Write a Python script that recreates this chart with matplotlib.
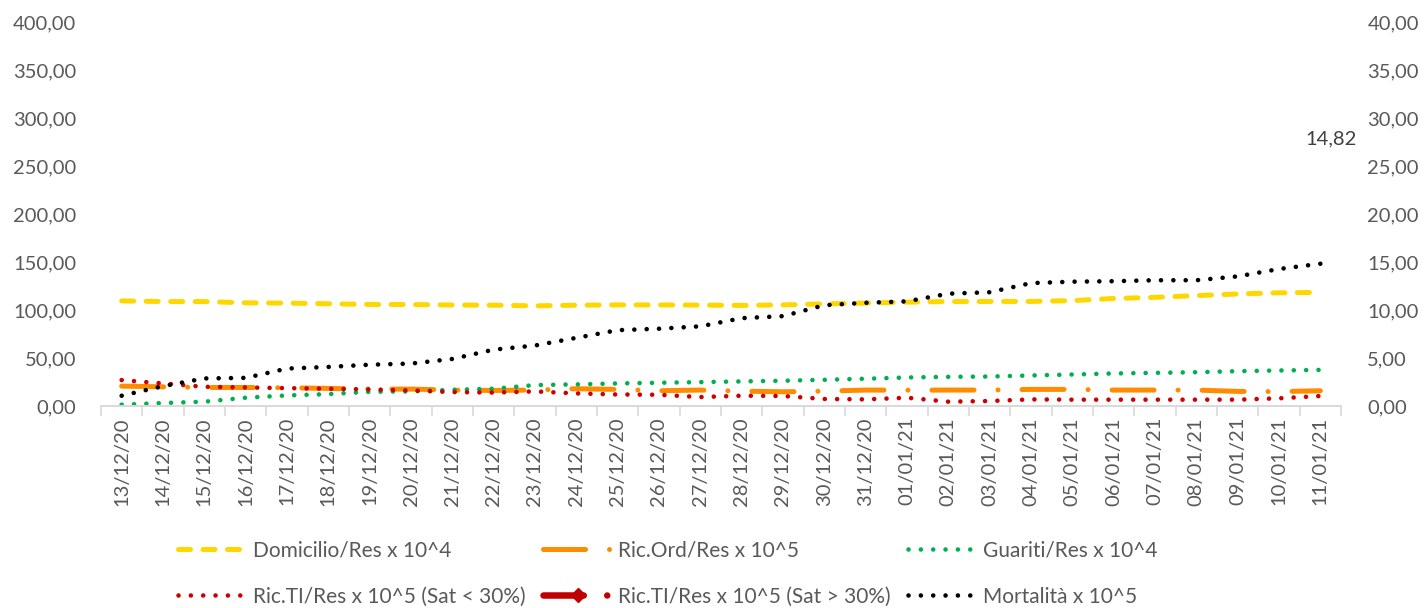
import numpy as np
import matplotlib
matplotlib.use("Agg")
import matplotlib.pyplot as plt
from matplotlib.ticker import FixedLocator, FuncFormatter

plt.rcParams['font.family'] = ['Lato', 'DejaVu Sans']
GREY = '#595959'

# dates on the category axis
date = ['13/12/20', '14/12/20', '15/12/20', '16/12/20', '17/12/20', '18/12/20',
        '19/12/20', '20/12/20', '21/12/20', '22/12/20', '23/12/20', '24/12/20',
        '25/12/20', '26/12/20', '27/12/20', '28/12/20', '29/12/20', '30/12/20',
        '31/12/20', '01/01/21', '02/01/21', '03/01/21', '04/01/21', '05/01/21',
        '06/01/21', '07/01/21', '08/01/21', '09/01/21', '10/01/21', '11/01/21']

# left axis series
domicilio = [109.5, 108.8, 108.8, 107.5, 107.2, 106.5, 105.8, 105.7, 105.2, 105.0,
             104.3, 105.0, 105.3, 105.3, 105.1, 104.8, 105.3, 106.4, 107.2, 108.2,
             108.8, 108.9, 108.9, 109.8, 112.0, 113.2, 115.0, 116.7, 117.9, 118.3]
ric_ord = [20.7, 20.0, 19.3, 19.3, 19.0, 18.3, 17.6, 17.6, 16.6, 16.2,
           16.6, 18.0, 17.3, 15.9, 16.6, 15.5, 14.8, 15.5, 16.6, 16.5,
           16.6, 16.6, 17.3, 17.3, 16.6, 16.6, 16.6, 15.2, 15.0, 15.9]
guariti = [1.4, 3.1, 4.5, 8.6, 11.0, 12.4, 14.8, 15.2, 16.9, 18.0,
           21.8, 22.5, 23.5, 24.2, 24.9, 25.6, 26.3, 27.3, 28.4, 29.7,
           30.4, 30.7, 31.8, 32.8, 33.9, 34.5, 35.2, 36.3, 37.0, 37.6]
ti_sotto = [27.0, 23.5, 20.0, 19.3, 18.6, 18.0, 17.3, 16.2, 14.5, 14.0,
            15.2, 13.1, 12.0, 11.7, 9.3, 10.7, 10.4, 7.3, 6.9, 8.6,
            4.5, 5.2, 6.9, 6.6, 6.6, 6.6, 6.6, 6.6, 8.0, 10.4]
ti_sopra = [None] * len(date)   # no day above 30% saturation

# right axis series
mortalita = [1.07, 2.07, 2.87, 2.93, 3.90, 4.07, 4.30, 4.42, 4.90, 5.87,
             6.30, 7.10, 7.90, 8.05, 8.30, 9.15, 9.36, 10.50, 10.75, 10.90,
             11.70, 11.85, 12.80, 12.95, 13.00, 13.10, 13.10, 13.50, 14.27, 14.82]

x = np.arange(len(date))
px = 72 / 100  # points per pixel

fig = plt.figure(figsize=(14.25, 6.08), dpi=100)
ax = fig.add_axes([101 / 1425, 1 - 406 / 608, 1240 / 1425, 384 / 608])
ax2 = ax.twinx()

lw = 5 * px
dot_lw = 4.6 * px
dash_style = (0, (2.4, 2.5))
dot_style = (0, (0.01, 12.3 / 4.6))
dashdot_style = (0, (8.4, 4.8, 0.01, 4.8))

l_dom, = ax.plot(x, domicilio, color='#FFD700', lw=lw, ls=dash_style,
                 dash_capstyle='round', label='Domicilio/Res x 10^4')
l_ord, = ax.plot(x, ric_ord, color='#FF8C00', lw=lw, ls=dashdot_style,
                 dash_capstyle='round', label='Ric.Ord/Res x 10^5')
l_gua, = ax.plot(x, guariti, color='#00B050', lw=dot_lw, ls=dot_style,
                 dash_capstyle='round', label='Guariti/Res x 10^4')
l_sot, = ax.plot(x, ti_sotto, color='#CC0000', lw=dot_lw, ls=dot_style,
                 dash_capstyle='round', label='Ric.TI/Res x 10^5 (Sat < 30%)')
l_sop, = ax.plot(x, np.array(ti_sopra, dtype=float), color='#C00000', lw=6.5 * px,
                 ls=(0, (6.2, 3.6, 0.01, 3.6)), dash_capstyle='round',
                 marker='D', ms=7, label='Ric.TI/Res x 10^5 (Sat > 30%)')
l_mor, = ax2.plot(x, mortalita, color='black', lw=dot_lw, ls=dot_style,
                  dash_capstyle='round', label='Mortalità x 10^5')

# label on the last point
ax2.annotate(f"{mortalita[-1]:.2f}".replace('.', ','), xy=(x[-1], mortalita[-1]),
             xytext=(11, 125), textcoords='offset pixels', ha='center', va='center',
             fontsize=14.5, color='#404040')

comma = FuncFormatter(lambda v, p: f"{v:.2f}".replace('.', ','))
ax.set_xlim(-0.5, len(date) - 0.5)
ax.set_ylim(0, 400)
ax2.set_ylim(0, 40)
ax.set_yticks(np.arange(0, 401, 50))
ax2.set_yticks(np.arange(0, 41, 5))
ax.yaxis.set_major_formatter(comma)
ax2.yaxis.set_major_formatter(comma)
ax.tick_params(axis='y', length=0, pad=18, labelsize=14.5, labelcolor=GREY)
ax2.tick_params(axis='y', length=0, pad=19, labelsize=14.5, labelcolor=GREY)

ax.set_xticks(x)
ax.set_xticklabels(date, rotation=90)
ax.xaxis.set_minor_locator(FixedLocator(np.arange(-0.5, len(date), 1)))
ax.tick_params(axis='x', which='major', length=0, pad=8, labelsize=14.5, labelcolor=GREY)
ax.tick_params(axis='x', which='minor', length=7, width=1.2, color='#D9D9D9')

for a in (ax, ax2):
    for s in ('top', 'left', 'right'):
        a.spines[s].set_visible(False)
    a.spines['bottom'].set_color('#D9D9D9')
    a.spines['bottom'].set_linewidth(1.2)

# legend: three columns, two rows (handle lengths given in pixels)
fs = 15
fs_px = fs / px
cols = [([l_dom, l_sot], 178, 63, 12),
        ([l_ord, l_sop], 543, 70, 5),
        ([l_gua, l_mor], 908, 65, 10)]
for handles, xpix, hl, pad in cols:
    leg = fig.legend(handles=handles, labels=[h.get_label() for h in handles],
                     loc='center left', bbox_to_anchor=(xpix / 1425, 1 - 573.5 / 608),
                     frameon=False, fontsize=fs, handlelength=hl / fs_px,
                     handletextpad=pad / fs_px, borderpad=0, borderaxespad=0,
                     labelspacing=1.25, numpoints=1)
    for t in leg.get_texts():
        t.set_color(GREY)

fig.savefig('out.png', dpi=100)
